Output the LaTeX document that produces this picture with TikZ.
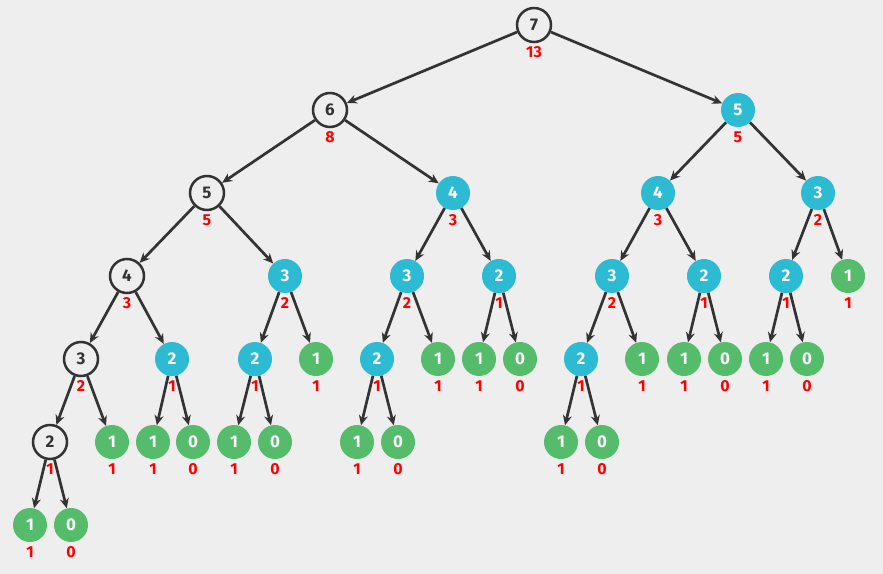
\documentclass[tikz,border=0pt]{standalone}
\usepackage{fontspec}
\setmainfont{Fira Sans}
\usetikzlibrary{arrows.meta}
\definecolor{fibbg}{HTML}{EEEEEE}
\definecolor{fibblue}{HTML}{2DBAD3}
\definecolor{fibgreen}{HTML}{55BC6C}
\definecolor{fibedge}{HTML}{333333}
\definecolor{fibred}{HTML}{FF0000}

\begin{document}
\begin{tikzpicture}[x=1bp, y=-1bp,
    call/.style={circle, minimum size=34bp, inner sep=0pt, font=\fontsize{17}{17}\selectfont\bfseries},
    open/.style={call, draw=fibedge, line width=2.5bp, fill=fibbg, text=fibedge},
    memo/.style={call, fill=fibblue, text=white},
    base/.style={call, fill=fibgreen, text=white},
    val/.style={inner sep=0pt, text=fibred, font=\fontsize{16}{16}\selectfont\bfseries},
    edge/.style={-{Stealth[length=10bp,width=9bp]}, draw=fibedge, line width=2.7bp}]
    \fill[fibbg] (0,0) rectangle (883,574);
    \useasboundingbox (0,0) rectangle (883,574);

    % Calls
    \node[open] (f7) at (534,25) {7};
    \node[open] (f6) at (330,110) {6};
    \node[memo] (f5r) at (738,110) {5};
    \node[open] (f5) at (207,193) {5};
    \node[memo] (f4a) at (453,193) {4};
    \node[memo] (f4b) at (658,193) {4};
    \node[memo] (f3a) at (818,193) {3};
    \node[open] (f4) at (127,276) {4};
    \node[memo] (f3b) at (285,276) {3};
    \node[memo] (f3c) at (407,276) {3};
    \node[memo] (f2a) at (499,276) {2};
    \node[memo] (f3d) at (612,276) {3};
    \node[memo] (f2b) at (704,276) {2};
    \node[memo] (f2c) at (786,276) {2};
    \node[base] (f1a) at (848,276) {1};
    \node[open] (f3) at (81,359) {3};
    \node[memo] (f2d) at (172,359) {2};
    \node[memo] (f2e) at (255,359) {2};
    \node[base] (f1b) at (316,359) {1};
    \node[memo] (f2f) at (377,359) {2};
    \node[base] (f1c) at (438,359) {1};
    \node[base] (f1d) at (479,359) {1};
    \node[base] (f0a) at (520,359) {0};
    \node[memo] (f2g) at (581,359) {2};
    \node[base] (f1e) at (642,359) {1};
    \node[base] (f1f) at (684,359) {1};
    \node[base] (f0b) at (725,359) {0};
    \node[base] (f1g) at (766,359) {1};
    \node[base] (f0c) at (807,359) {0};
    \node[open] (f2) at (50,442) {2};
    \node[base] (f1h) at (112,442) {1};
    \node[base] (f1i) at (153,442) {1};
    \node[base] (f0d) at (193,442) {0};
    \node[base] (f1j) at (234,442) {1};
    \node[base] (f0e) at (275,442) {0};
    \node[base] (f1k) at (357,442) {1};
    \node[base] (f0f) at (398,442) {0};
    \node[base] (f1l) at (561,442) {1};
    \node[base] (f0g) at (602,442) {0};
    \node[base] (f1) at (30,525) {1};
    \node[base] (f0) at (71,525) {0};

    % Values
    \node[val] (v7) at (534,52) {13};
    \node[val] (v6) at (330,137) {8};
    \node[val] (v5r) at (738,137) {5};
    \node[val] (v5) at (207,220) {5};
    \node[val] (v4a) at (453,220) {3};
    \node[val] (v4b) at (658,220) {3};
    \node[val] (v3a) at (818,220) {2};
    \node[val] (v4) at (127,303) {3};
    \node[val] (v3b) at (285,303) {2};
    \node[val] (v3c) at (407,303) {2};
    \node[val] (v2a) at (499,303) {1};
    \node[val] (v3d) at (612,303) {2};
    \node[val] (v2b) at (704,303) {1};
    \node[val] (v2c) at (786,303) {1};
    \node[val] (v1a) at (848,303) {1};
    \node[val] (v3) at (81,386) {2};
    \node[val] (v2d) at (172,386) {1};
    \node[val] (v2e) at (255,386) {1};
    \node[val] (v1b) at (316,386) {1};
    \node[val] (v2f) at (377,386) {1};
    \node[val] (v1c) at (438,386) {1};
    \node[val] (v1d) at (479,386) {1};
    \node[val] (v0a) at (520,386) {0};
    \node[val] (v2g) at (581,386) {1};
    \node[val] (v1e) at (642,386) {1};
    \node[val] (v1f) at (684,386) {1};
    \node[val] (v0b) at (725,386) {0};
    \node[val] (v1g) at (766,386) {1};
    \node[val] (v0c) at (807,386) {0};
    \node[val] (v2) at (50,469) {1};
    \node[val] (v1h) at (112,469) {1};
    \node[val] (v1i) at (153,469) {1};
    \node[val] (v0d) at (193,469) {0};
    \node[val] (v1j) at (234,469) {1};
    \node[val] (v0e) at (275,469) {0};
    \node[val] (v1k) at (357,469) {1};
    \node[val] (v0f) at (398,469) {0};
    \node[val] (v1l) at (561,469) {1};
    \node[val] (v0g) at (602,469) {0};
    \node[val] (v1) at (30,552) {1};
    \node[val] (v0) at (71,552) {0};

    % Connections
    \draw[edge] (f7) -- (f6);
    \draw[edge] (f7) -- (f5r);
    \draw[edge] (f6) -- (f5);
    \draw[edge] (f6) -- (f4a);
    \draw[edge] (f5r) -- (f4b);
    \draw[edge] (f5r) -- (f3a);
    \draw[edge] (f5) -- (f4);
    \draw[edge] (f5) -- (f3b);
    \draw[edge] (f4a) -- (f3c);
    \draw[edge] (f4a) -- (f2a);
    \draw[edge] (f4b) -- (f3d);
    \draw[edge] (f4b) -- (f2b);
    \draw[edge] (f3a) -- (f2c);
    \draw[edge] (f3a) -- (f1a);
    \draw[edge] (f4) -- (f3);
    \draw[edge] (f4) -- (f2d);
    \draw[edge] (f3b) -- (f2e);
    \draw[edge] (f3b) -- (f1b);
    \draw[edge] (f3c) -- (f2f);
    \draw[edge] (f3c) -- (f1c);
    \draw[edge] (f2a) -- (f1d);
    \draw[edge] (f2a) -- (f0a);
    \draw[edge] (f3d) -- (f2g);
    \draw[edge] (f3d) -- (f1e);
    \draw[edge] (f2b) -- (f1f);
    \draw[edge] (f2b) -- (f0b);
    \draw[edge] (f2c) -- (f1g);
    \draw[edge] (f2c) -- (f0c);
    \draw[edge] (f3) -- (f2);
    \draw[edge] (f3) -- (f1h);
    \draw[edge] (f2d) -- (f1i);
    \draw[edge] (f2d) -- (f0d);
    \draw[edge] (f2e) -- (f1j);
    \draw[edge] (f2e) -- (f0e);
    \draw[edge] (f2f) -- (f1k);
    \draw[edge] (f2f) -- (f0f);
    \draw[edge] (f2g) -- (f1l);
    \draw[edge] (f2g) -- (f0g);
    \draw[edge] (f2) -- (f1);
    \draw[edge] (f2) -- (f0);
\end{tikzpicture}
\end{document}
